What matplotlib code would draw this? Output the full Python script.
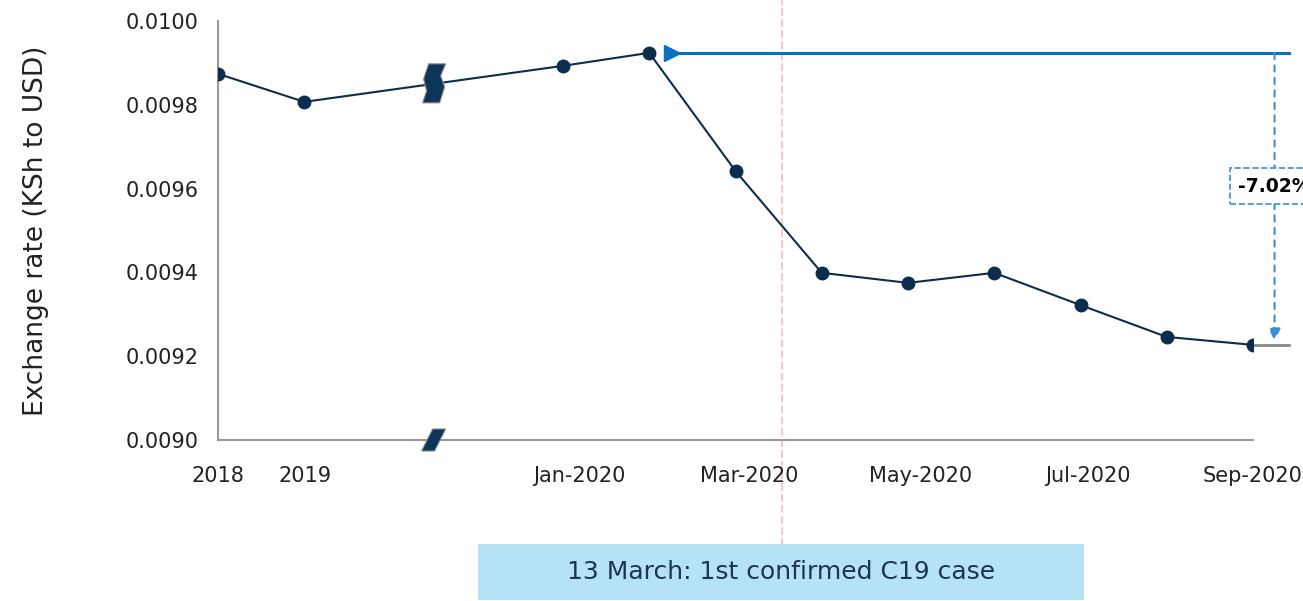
import matplotlib.pyplot as plt
import numpy as np
from matplotlib.patches import Polygon, Rectangle
from matplotlib.transforms import Affine2D, ScaledTranslation

plt.rcParams['font.family'] = ['DejaVu Sans']

# data
months = ['2018', '2019', 'Jan-2020', 'Feb-2020', 'Mar-2020', 'Apr-2020', 'May-2020',
          'Jun-2020', 'Jul-2020', 'Aug-2020', 'Sep-2020']
xpos = [0, 1, 4, 5, 6, 7, 8, 9, 10, 11, 12]
rate = [0.009874, 0.009807, 0.009893, 0.009924, 0.009642, 0.009399, 0.009375,
        0.009399, 0.009322, 0.009246, 0.009227]
tick_pos = [0, 1.01, 4.19, 6.16, 8.15, 10.08, 12]
tick_lab = ['2018', '2019', 'Jan-2020', 'Mar-2020', 'May-2020', 'Jul-2020', 'Sep-2020']
yticks = [0.0090, 0.0092, 0.0094, 0.0096, 0.0098, 0.0100]
break_x = 2.5
covid_x = 6.535

navy = '#0d2d4e'
blue = '#0a70c0'
lblue = '#3b8fd8'
gray = '#999999'
txt = '#222222'

fig = plt.figure(figsize=(13.03, 6.01), dpi=100)
ax = fig.add_axes([218/1303, 1-440/601, 1035/1303, 419/601])

ax.plot(xpos, rate, color=navy, lw=1.5, marker='o', markersize=9, zorder=5)

# covid line
ax.axvline(covid_x, ymin=-0.252, ymax=1.06, color='#f6cbc4', lw=1.5, ls='--',
           clip_on=False, zorder=1)

# peak reference line with arrow marker
peak = rate[3]
last = rate[-1]
ax.plot([5.26, 12.42], [peak, peak], color=blue, lw=2.2, clip_on=False, zorder=4)
ax.plot([5.26], [peak], marker='>', color=blue, markersize=11, clip_on=False, zorder=6)
ax.plot([12, 12.42], [last, last], color='#888888', lw=2, clip_on=False, zorder=3)

# dashed drop arrow
ax.annotate('', xy=(12.25, last + 0.00001), xytext=(12.25, peak),
            arrowprops=dict(arrowstyle='-|>', color=lblue, lw=1.5, ls=(0, (3, 3)),
                            mutation_scale=18, shrinkA=0, shrinkB=0),
            annotation_clip=False, zorder=4)
pct = (last / peak - 1) * 100
ax.text(12.25, (peak + last) / 2 + 0.00003, f'{pct:.2f}%', ha='center', va='center',
        fontsize=13.5, fontweight='bold', color='black', clip_on=False, zorder=7,
        bbox=dict(boxstyle='square,pad=0.45', fc='white', ec=lblue, ls='--', lw=1.2))

# break symbols
def brk(x, y, verts):
    tr = Affine2D() + ScaledTranslation(x, y, ax.transData)
    p = Polygon(verts, closed=True, transform=tr, fc='#0e3558', ec='#8a8a8a', lw=0.8,
                clip_on=False, zorder=8)
    ax.add_patch(p)

zig = [(-5, 20), (12, 20), (7, 8), (11, -3), (6, -19), (-11, -19), (-7, -7), (-10, 5)]
brk(break_x, np.interp(break_x, xpos, rate), zig)
slant = [(-1, 11), (12, 11), (1, -11), (-12, -11)]
brk(break_x, 0.0090, slant)

ax.set_xlim(0, 12)
ax.set_ylim(0.0090, 0.0100)
ax.set_xticks(tick_pos)
ax.set_xticklabels(tick_lab)
ax.set_yticks(yticks)
ax.set_yticklabels([f'{v:.4f}' for v in yticks])
ax.set_yticks([0.0100], minor=True)
ax.tick_params(axis='both', which='major', length=0, labelsize=15, colors=txt)
ax.tick_params(axis='x', pad=19)
ax.tick_params(axis='y', pad=14)
ax.tick_params(axis='y', which='minor', length=8, color=gray, width=1.5)
for s in ['top', 'right']:
    ax.spines[s].set_visible(False)
for s in ['left', 'bottom']:
    ax.spines[s].set_color(gray)
    ax.spines[s].set_linewidth(1.5)
ax.set_ylabel('Exchange rate (KSh to USD)', fontsize=19, color=txt, labelpad=55)

# event box
fig.patches.append(Rectangle((478/1303, 1-600/601), 606/1303, 56/601,
                             transform=fig.transFigure, fc='#b5e2f4', ec='none', zorder=0))
fig.text(781/1303, 1-572/601, '13 March: 1st confirmed C19 case', ha='center', va='center',
         fontsize=18, color='#1b3552')

fig.savefig('out.png', dpi=100)
